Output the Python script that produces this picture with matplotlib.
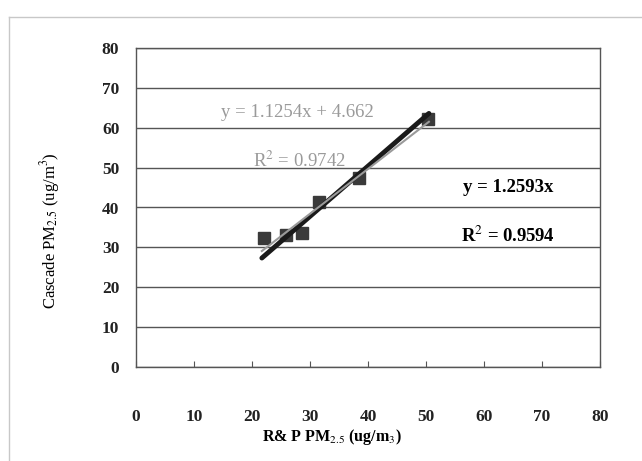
import numpy as np
import matplotlib
matplotlib.use('Agg')
import matplotlib.pyplot as plt

# 数据
rp_pm25 = [22.1, 25.9, 28.7, 31.6, 38.5, 50.3]
cascade_pm25 = [32.3, 33.0, 33.5, 41.5, 47.5, 62.3]

# 趋势线系数
fit_linear = (1.1254, 4.662)   # y = ax + b
fit_origin = 1.2593            # y = ax
r2_linear = 0.9742
r2_origin = 0.9594

ticks = [0, 10, 20, 30, 40, 50, 60, 70, 80]

plt.rcParams['font.family'] = ['Liberation Serif', 'DejaVu Serif']
plt.rcParams['mathtext.fontset'] = 'stix'

fig = plt.figure(figsize=(6.42, 4.61), dpi=100)
ax = fig.add_axes([136 / 642, 94 / 461, 464 / 642, 319 / 461])

# 外框
fig.add_artist(plt.Line2D([9 / 642, 9 / 642], [0, 1 - 17 / 461], color='#c8c8c8', lw=1, transform=fig.transFigure))
fig.add_artist(plt.Line2D([9 / 642, 1], [1 - 17 / 461, 1 - 17 / 461], color='#c8c8c8', lw=1, transform=fig.transFigure))

ax.set_xlim(0, 80)
ax.set_ylim(0, 80)
ax.set_xticks(ticks)
ax.set_yticks(ticks)
ax.yaxis.grid(True, color='#555555', lw=1)
ax.set_axisbelow(True)
for s in ax.spines.values():
    s.set_color('#555555')
    s.set_linewidth(1)

ax.tick_params(axis='x', direction='in', length=4, color='#555555', pad=30, labelsize=12.5)
ax.tick_params(axis='y', length=0, pad=12, labelsize=12.5)
for lab in ax.get_xticklabels() + ax.get_yticklabels():
    lab.set_fontweight('bold')
    lab.set_color('#222222')

# 散点
ax.plot(rp_pm25, cascade_pm25, 's', color='#3a3a3a', markersize=8, zorder=2)

# 趋势线
xs = np.array([min(rp_pm25) - 0.4, max(rp_pm25) + 0.2])
ax.plot(xs, fit_origin * xs, color='#1a1a1a', lw=3.5, solid_capstyle='round', zorder=3)
ax.plot(xs, fit_linear[0] * xs + fit_linear[1], color='#9a9a9a', lw=1.5, zorder=4)

ax.text(27.9, 63.7, 'y = %.4fx + %.3f' % fit_linear, color='#9a9a9a', fontsize=13.5, ha='center', va='center')
ax.text(28.1, 51.8, 'R$^2$ = %.4f' % r2_linear, color='#9a9a9a', fontsize=13.5, ha='center', va='center')
ax.text(64.1, 45, 'y = %.4fx' % fit_origin, color='black', fontsize=13.5, fontweight='bold', ha='center', va='center')
ax.text(64.1, 33, 'R$^2$ = %.4f' % r2_origin, color='black', fontsize=13.5, fontweight='bold', ha='center', va='center')

ax.set_ylabel('Cascade PM$_{2.5}$ (ug/m$^3$)', fontsize=12)
ax.yaxis.set_label_coords(62 / 642, 0.5, transform=fig.transFigure)
fig.text(332 / 642, 1 - 437 / 461, 'R& P PM$_{2.5}$ (ug/m$_3$)', fontsize=11.5, fontweight='bold', ha='center', va='center')

fig.savefig('out.png', dpi=100)
